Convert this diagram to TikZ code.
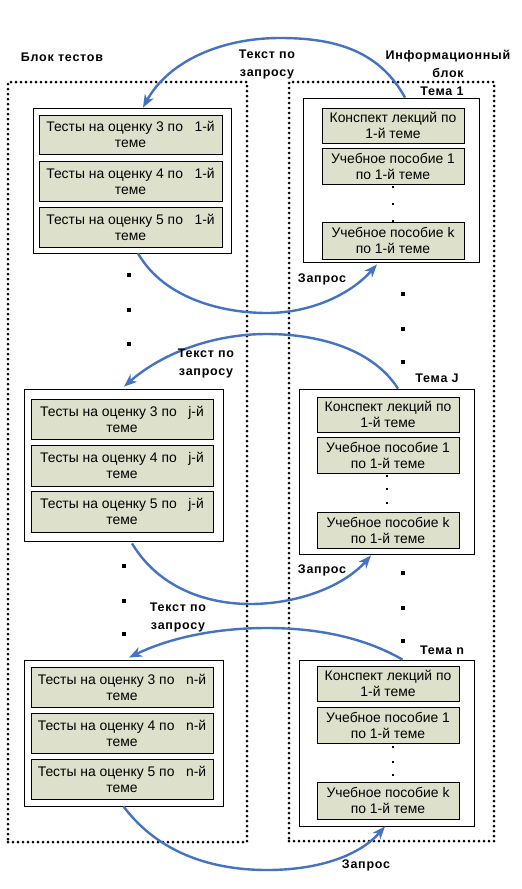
\documentclass[tikz,border=0pt]{standalone}
\usepackage{fontspec}
\setmainfont{Liberation Sans}
\newfontfamily\lblfont[LetterSpace=6]{Liberation Sans}
\usetikzlibrary{arrows.meta,calc}
\definecolor{boxgreen}{RGB}{221,225,203}
\definecolor{arrowblue}{RGB}{68,114,196}
\tikzset{
  dotbox/.style={draw=black, line width=3pt, dash pattern=on 0pt off 5pt, line cap=round, inner sep=0pt},
  wbox/.style={draw=black, line width=0.8pt, fill=white, inner sep=0pt},
  gbox/.style={draw=black, line width=0.8pt, fill=boxgreen, inner sep=0pt, align=center, font=\fontsize{13.9}{16}\selectfont},
  lbl/.style={font=\lblfont\bfseries\fontsize{12.5}{18}\selectfont, align=center, inner sep=0pt},
  req/.style={draw=arrowblue, line width=2.4pt, -{Stealth[length=13pt,width=10pt,inset=4pt]}},
  sq/.style={fill=black, minimum size=3.5pt, inner sep=0pt},
  dt/.style={fill=black, minimum size=2pt, inner sep=0pt},
}
\begin{document}
\begin{tikzpicture}[x=1pt,y=-1pt]
\useasboundingbox (0,0) rectangle (522,889);
\fill[white] (0,0) rectangle (522,889);
% big dotted blocks
\node[dotbox, minimum width=239pt, minimum height=760pt] (lblock) at (127.5,462) {};
\node[dotbox, minimum width=205pt, minimum height=759pt] (rblock) at (391.5,461.5) {};
\node[lbl] (lbltitle) at (62,57) {Блок тестов};
\node[lbl] (rbltitle) at (448,64) {Информационный\\блок};
% test containers
\node[wbox, minimum width=198pt, minimum height=145pt] (T1) at (132,180.5) {};
\node[wbox, minimum width=199pt, minimum height=152pt] (Tj) at (123.5,465) {};
\node[wbox, minimum width=199pt, minimum height=146pt] (Tn) at (123.5,733) {};
% tests, topic 1
\node[gbox, minimum width=183pt, minimum height=39pt] (T1a) at (130.5,134.5) {Тесты на оценку 3 по \ \ 1-й\\теме};
\node[gbox, minimum width=183pt, minimum height=40pt] (T1b) at (130.5,181) {Тесты на оценку 4 по \ \ 1-й\\теме};
\node[gbox, minimum width=183pt, minimum height=40pt] (T1c) at (130.5,227) {Тесты на оценку 5 по \ \ 1-й\\теме};
% tests, topic j
\node[gbox, minimum width=182pt, minimum height=40pt] (Tja) at (122,419) {Тесты на оценку 3 по \ \ j-й\\теме};
\node[gbox, minimum width=182pt, minimum height=41pt] (Tjb) at (122,465.5) {Тесты на оценку 4 по \ \ j-й\\теме};
\node[gbox, minimum width=182pt, minimum height=41pt] (Tjc) at (122,511.5) {Тесты на оценку 5 по \ \ j-й\\теме};
% tests, topic n
\node[gbox, minimum width=182pt, minimum height=40pt] (Tna) at (122,687) {Тесты на оценку 3 по \ \ n-й\\теме};
\node[gbox, minimum width=182pt, minimum height=40pt] (Tnb) at (122,733) {Тесты на оценку 4 по \ \ n-й\\теме};
\node[gbox, minimum width=182pt, minimum height=40pt] (Tnc) at (122,779) {Тесты на оценку 5 по \ \ n-й\\теме};
% info containers
\node[wbox, minimum width=176pt, minimum height=164pt] (I1) at (391,180) {};
\node[wbox, minimum width=175pt, minimum height=165pt] (IJ) at (386.5,471.5) {};
\node[wbox, minimum width=175pt, minimum height=166pt] (In) at (386.5,743) {};
\node[lbl] (th1) at (442,91) {Тема 1};
\node[lbl] (thJ) at (437,378) {Тема J};
\node[lbl] (thn) at (442,650) {Тема n};
% info topic 1
\node[gbox, minimum width=142pt, minimum height=35pt] (I1a) at (393,125.5) {Конспект лекций по\\1-й теме};
\node[gbox, minimum width=142pt, minimum height=36pt] (I1b) at (393,166) {Учебное пособие 1\\по 1-й теме};
\node[gbox, minimum width=142pt, minimum height=37pt] (I1c) at (393,240.5) {Учебное пособие k\\по 1-й теме};
\node[dt] (i1d1) at (393,187) {};
\node[dt] (i1d2) at (393,204) {};
\node[dt] (i1d3) at (393,221) {};
% info topic J
\node[gbox, minimum width=142pt, minimum height=35pt] (IJa) at (388,414.5) {Конспект лекций по\\1-й теме};
\node[gbox, minimum width=142pt, minimum height=36pt] (IJb) at (388,455) {Учебное пособие 1\\по 1-й теме};
\node[gbox, minimum width=142pt, minimum height=36pt] (IJc) at (388,530) {Учебное пособие k\\по 1-й теме};
\node[dt] (iJd1) at (387,476) {};
\node[dt] (iJd2) at (387,489) {};
\node[dt] (iJd3) at (387,503) {};
% info topic n
\node[gbox, minimum width=142pt, minimum height=35pt] (Ina) at (388,683.5) {Конспект лекций по\\1-й теме};
\node[gbox, minimum width=142pt, minimum height=36pt] (Inb) at (388,725) {Учебное пособие 1\\по 1-й теме};
\node[gbox, minimum width=142pt, minimum height=37pt] (Inc) at (388,800.5) {Учебное пособие k\\по 1-й теме};
\node[dt] (ind1) at (393,747) {};
\node[dt] (ind2) at (393,762) {};
\node[dt] (ind3) at (393,775) {};
% square ellipsis dots
\node[sq] (l1) at (129,275) {};
\node[sq] (l2) at (129,310) {};
\node[sq] (l3) at (129,344) {};
\node[sq] (l4) at (124,566) {};
\node[sq] (l5) at (124,601) {};
\node[sq] (l6) at (124,634) {};
\node[sq] (r1) at (403,294) {};
\node[sq] (r2) at (403,329) {};
\node[sq] (r3) at (403,362) {};
\node[sq] (r4) at (403,573) {};
\node[sq] (r5) at (403,608) {};
\node[sq] (r6) at (403,641) {};
% arrows
\draw[req] ($(I1.north)+(14,0)$) .. controls (378,48) and (330,38) .. (280,38) .. controls (220,38) and (168,62) .. ($(T1.north)+(11,0)$);
\draw[req] ($(T1.south)+(6,0)$) .. controls (165,300) and (225,313) .. (267,313) .. controls (310,313) and (350,295) .. ($(I1.south)+(-14,2)$);
\draw[req] ($(IJ.north)+(11.5,0)$) .. controls (370,345) and (310,334) .. (267,334) .. controls (210,334) and (160,355) .. ($(Tj.north)+(0.5,-2)$);
\draw[req] ($(Tj.south)+(8.5,2)$) .. controls (160,590) and (210,604) .. (250,604) .. controls (300,604) and (345,585) .. ($(IJ.south)+(-15.5,1)$);
\draw[req] ($(In.north)+(16,0)$) .. controls (360,635) and (310,628) .. (267,628) .. controls (210,628) and (165,640) .. ($(Tn.north)+(5.5,-2)$);
\draw[req] ($(Tn.south)+(0,0)$) .. controls (160,855) and (215,870) .. (267,870) .. controls (320,870) and (360,855) .. ($(In.south)+(-1.5,0)$);
% arrow labels
\node[lbl] (q1) at (267,64) {Текст по\\запросу};
\node[lbl] (z1) at (322,279) {Запрос};
\node[lbl] (q2) at (206,363) {Текст по\\запросу};
\node[lbl] (z2) at (322,570) {Запрос};
\node[lbl] (q3) at (178,617) {Текст по\\запросу};
\node[lbl] (z3) at (366,865) {Запрос};
\end{tikzpicture}
\end{document}
